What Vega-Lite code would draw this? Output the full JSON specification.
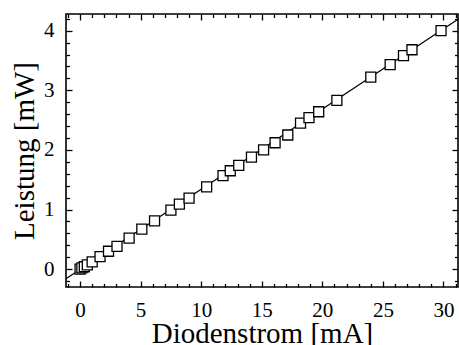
{
  "$schema": "https://vega.github.io/schema/vega-lite/v6.json",
  "width": 392,
  "height": 273,
  "autosize": {"type": "none"},
  "padding": {"left": 66, "top": 14, "right": 1, "bottom": 58},
  "background": "white",
  "config": {
    "view": {"stroke": "black", "strokeWidth": 1.6},
    "font": "Liberation Serif",
    "axis": {
      "domain": false,
      "grid": false,
      "tickColor": "black",
      "tickWidth": 1.3,
      "labelColor": "black",
      "titleColor": "black",
      "labelFont": "Liberation Serif",
      "titleFont": "Liberation Serif",
      "labelFontSize": 21,
      "titleFontSize": 29,
      "titleFontWeight": "normal",
      "labelFlush": false,
      "labelOverlap": false
    }
  },
  "layer": [
    {
      "data": {"values": [
        {"strom": -1.16, "leistung": -0.161},
        {"strom": 31.2, "leistung": 4.192}
      ]},
      "mark": {"type": "line", "color": "black", "strokeWidth": 1.3},
      "encoding": {
        "x": {
          "field": "strom", "type": "quantitative",
          "scale": {"domain": [-1.16, 31.2], "nice": false, "zero": false},
          "axis": {
            "orient": "bottom",
            "title": "Diodenstrom [mA]",
            "values": [-1,0,1,2,3,4,5,6,7,8,9,10,11,12,13,14,15,16,17,18,19,20,21,22,23,24,25,26,27,28,29,30,31],
            "tickSize": {"condition": {"test": "datum.value % 5 === 0", "value": -6}, "value": -3.5},
            "labelExpr": "datum.value % 5 === 0 ? datum.label : ''",
            "labelPadding": 18,
            "titlePadding": -3
          }
        },
        "y": {
          "field": "leistung", "type": "quantitative",
          "scale": {"domain": [-0.3, 4.28], "nice": false, "zero": false},
          "axis": {
            "orient": "left",
            "title": "Leistung [mW]",
            "values": [-0.2,0,0.2,0.4,0.6,0.8,1,1.2,1.4,1.6,1.8,2,2.2,2.4,2.6,2.8,3,3.2,3.4,3.6,3.8,4,4.2],
            "tickSize": {"condition": {"test": "abs(datum.value - round(datum.value)) < 0.001", "value": -6}, "value": -3.5},
            "labelExpr": "abs(datum.value - round(datum.value)) < 0.001 ? format(datum.value, 'd') : ''",
            "labelPadding": 18,
            "titlePadding": 4
          }
        }
      }
    },
    {
      "data": {"values": [
        {"strom": 0.0, "leistung": 0.0},
        {"strom": 0.15, "leistung": 0.02},
        {"strom": 0.35, "leistung": 0.04},
        {"strom": 0.6, "leistung": 0.07},
        {"strom": 1.0, "leistung": 0.12},
        {"strom": 1.65, "leistung": 0.21},
        {"strom": 2.35, "leistung": 0.3},
        {"strom": 3.05, "leistung": 0.38},
        {"strom": 4.05, "leistung": 0.52},
        {"strom": 5.1, "leistung": 0.67},
        {"strom": 6.15, "leistung": 0.81},
        {"strom": 7.5, "leistung": 0.99},
        {"strom": 8.2, "leistung": 1.09},
        {"strom": 9.0, "leistung": 1.19},
        {"strom": 10.45, "leistung": 1.38},
        {"strom": 11.8, "leistung": 1.57},
        {"strom": 12.4, "leistung": 1.65},
        {"strom": 13.1, "leistung": 1.74},
        {"strom": 14.15, "leistung": 1.88},
        {"strom": 15.15, "leistung": 2.0},
        {"strom": 16.1, "leistung": 2.12},
        {"strom": 17.15, "leistung": 2.25},
        {"strom": 18.2, "leistung": 2.45},
        {"strom": 18.9, "leistung": 2.54},
        {"strom": 19.7, "leistung": 2.64},
        {"strom": 21.2, "leistung": 2.83},
        {"strom": 24.0, "leistung": 3.22},
        {"strom": 25.6, "leistung": 3.43},
        {"strom": 26.7, "leistung": 3.58},
        {"strom": 27.4, "leistung": 3.68},
        {"strom": 29.8, "leistung": 4.0}
      ]},
      "mark": {"type": "point", "shape": "square", "size": 100, "filled": true, "fill": "white", "stroke": "black", "strokeWidth": 1.3, "opacity": 1},
      "encoding": {
        "x": {
          "field": "strom", "type": "quantitative",
          "axis": {
            "orient": "top",
            "title": null,
            "labels": false,
            "values": [-1,0,1,2,3,4,5,6,7,8,9,10,11,12,13,14,15,16,17,18,19,20,21,22,23,24,25,26,27,28,29,30,31],
            "tickSize": {"condition": {"test": "datum.value % 5 === 0", "value": -6}, "value": -3.5}
          }
        },
        "y": {
          "field": "leistung", "type": "quantitative",
          "axis": {
            "orient": "right",
            "title": null,
            "labels": false,
            "values": [-0.2,0,0.2,0.4,0.6,0.8,1,1.2,1.4,1.6,1.8,2,2.2,2.4,2.6,2.8,3,3.2,3.4,3.6,3.8,4,4.2],
            "tickSize": {"condition": {"test": "abs(datum.value - round(datum.value)) < 0.001", "value": -6}, "value": -3.5}
          }
        }
      }
    }
  ],
  "resolve": {"axis": {"x": "independent", "y": "independent"}}
}
